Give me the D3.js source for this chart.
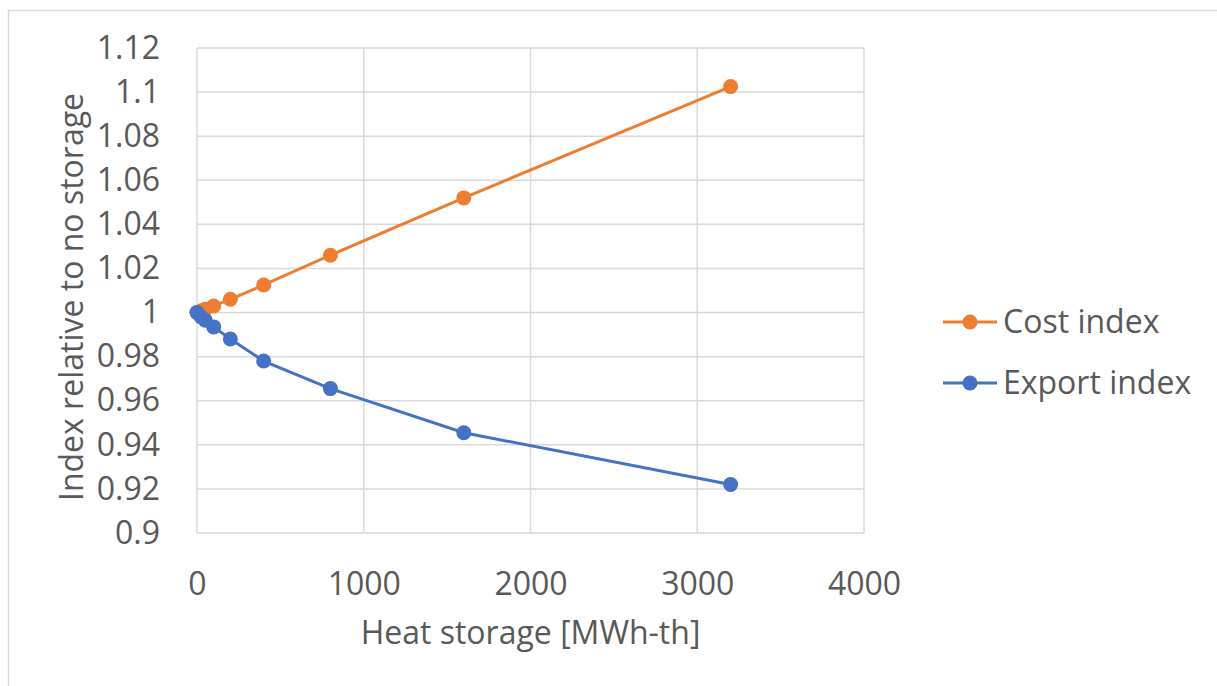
<!DOCTYPE html>
<html>
<head>
<meta charset="utf-8">
<script src="https://cdn.jsdelivr.net/npm/d3@7"></script>
<style>
  body { margin: 0; background: #fff; }
  text { font-family: "Open Sans", sans-serif; fill: #595959; }
</style>
</head>
<body>
<div id="chart"></div>
<script>
let storage = [0, 25, 50, 100, 200, 400, 800, 1600, 3200];
let costIndex = [1, 1.0008, 1.0015, 1.003, 1.006, 1.0125, 1.026, 1.052, 1.1025];
let exportIndex = [1, 0.998, 0.9965, 0.9935, 0.988, 0.978, 0.9655, 0.9455, 0.922];
let xTicks = [0, 1000, 2000, 3000, 4000];
let yTicks = [0.9, 0.92, 0.94, 0.96, 0.98, 1, 1.02, 1.04, 1.06, 1.08, 1.1, 1.12];
let seriesNames = ["Cost index", "Export index"];
let seriesColors = ["#ED7D31", "#4472C4"];

let width = 1217, height = 686;
let margin = {top: 48, left: 197, right: 353, bottom: 153};
let fontSize = '32px';

let svg = d3.select('#chart')
    .append('svg')
        .attr('width', width)
        .attr('height', height);

// outer chart frame
svg.append('rect')
    .attr('x', 8.5).attr('y', 10.5)
    .attr('width', 1240).attr('height', 700)
    .attr('fill', 'none')
    .attr('stroke', '#d9d9d9')
    .attr('stroke-width', 1.5);

let xScale = d3.scaleLinear()
    .domain([0, 4000])
    .range([margin.left, width - margin.right]);

let yScale = d3.scaleLinear()
    .domain([0.9, 1.12])
    .range([height - margin.bottom, margin.top]);

// grid
svg.append('g').selectAll('line.v')
    .data(xTicks)
    .enter().append('line')
        .attr('x1', d => xScale(d)).attr('x2', d => xScale(d))
        .attr('y1', yScale(0.9)).attr('y2', yScale(1.12))
        .attr('stroke', '#d9d9d9').attr('stroke-width', 1.5);

svg.append('g').selectAll('line.h')
    .data(yTicks)
    .enter().append('line')
        .attr('x1', xScale(0)).attr('x2', xScale(4000))
        .attr('y1', d => yScale(d)).attr('y2', d => yScale(d))
        .attr('stroke', '#d9d9d9').attr('stroke-width', 1.5);

// axes (labels only)
let xAxis = d3.axisBottom(xScale).tickValues(xTicks).tickSize(0).tickPadding(39)
    .tickFormat(d3.format('d'));
let gx = svg.append('g')
    .attr('transform', 'translate(0,' + yScale(0.9) + ')')
    .call(xAxis);
gx.select('.domain').remove();
gx.selectAll('text').style('font-size', fontSize).attr('fill', '#595959')
    .style('font-family', '"Open Sans", sans-serif');

let yAxis = d3.axisLeft(yScale).tickValues(yTicks).tickSize(0).tickPadding(37)
    .tickFormat(d => String(+d.toFixed(2)));
let gy = svg.append('g')
    .attr('transform', 'translate(' + xScale(0) + ',0)')
    .call(yAxis);
gy.select('.domain').remove();
gy.selectAll('text').style('font-size', fontSize).attr('fill', '#595959')
    .style('font-family', '"Open Sans", sans-serif');

// axis titles
svg.append('text')
    .attr('x', (xScale(0) + xScale(4000)) / 2)
    .attr('y', 644)
    .attr('text-anchor', 'middle')
    .style('font-size', fontSize)
    .text('Heat storage [MWh-th]');

svg.append('text')
    .attr('transform', 'translate(83,297) rotate(-90)')
    .attr('text-anchor', 'middle')
    .style('font-size', fontSize)
    .text('Index relative to no storage');

// series
let series = [costIndex, exportIndex];
let line = d3.line()
    .x((d, i) => xScale(storage[i]))
    .y(d => yScale(d));

series.forEach(function (values, k) {
    svg.append('path')
        .datum(values)
        .attr('fill', 'none')
        .attr('stroke', seriesColors[k])
        .attr('stroke-width', 3)
        .attr('d', line);
    svg.selectAll('circle.s' + k)
        .data(values)
        .enter().append('circle')
            .attr('cx', (d, i) => xScale(storage[i]))
            .attr('cy', d => yScale(d))
            .attr('r', 7.5)
            .attr('fill', seriesColors[k]);
});

// legend
let legend = svg.append('g');
seriesNames.forEach(function (name, k) {
    let y = 322 + k * 61;
    legend.append('line')
        .attr('x1', 943).attr('x2', 997)
        .attr('y1', y).attr('y2', y)
        .attr('stroke', seriesColors[k]).attr('stroke-width', 3);
    legend.append('circle')
        .attr('cx', 970).attr('cy', y).attr('r', 7.5)
        .attr('fill', seriesColors[k]);
    legend.append('text')
        .attr('x', 1003).attr('y', y)
        .attr('dy', '0.35em')
        .style('font-size', fontSize)
        .text(name);
});
</script>
</body>
</html>
